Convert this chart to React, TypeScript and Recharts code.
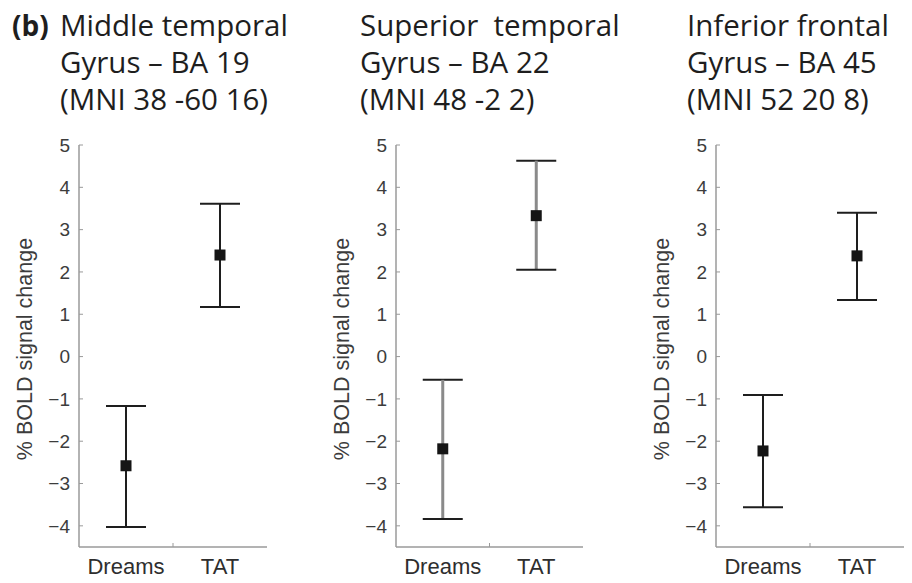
import React from 'react';
import { ComposedChart, Scatter, XAxis, YAxis, ErrorBar } from 'recharts';

// Conditions on the x axis
const categories = ['Dreams', 'TAT'];

// Axis ticks
const yTicks = [-4, -3, -2, -1, 0, 1, 2, 3, 4, 5];
const rightTicks = [4.25, 2.8, 1.35, -0.1, -1.55, -3.0];
const topTicks = [0.786, 1.071, 1.357, 1.643, 1.929, 2.214];
const bottomTicks = [1, 1.5, 2];

// Middle temporal gyrus, BA 19
const mtgMean = [-2.58, 2.4];
const mtgLower = [-4.03, 1.17];
const mtgUpper = [-1.17, 3.61];

// Superior temporal gyrus, BA 22
const stgMean = [-2.18, 3.33];
const stgLower = [-3.84, 2.05];
const stgUpper = [-0.55, 4.63];

// Inferior frontal gyrus, BA 45
const ifgMean = [-2.23, 2.38];
const ifgLower = [-3.56, 1.34];
const ifgUpper = [-0.91, 3.4];

const mtgTitle = ['Middle temporal', 'Gyrus \u2013 BA 19', '(MNI 38 -60 16)'];
const stgTitle = ['Superior  temporal', 'Gyrus \u2013 BA 22', '(MNI 48 -2 2)'];
const ifgTitle = ['Inferior frontal', 'Gyrus \u2013 BA 45', '(MNI 52 20 8)'];

const AXIS_COLOR = '#9a9a9a';
const SANS = '"Liberation Sans", Arial, sans-serif';
const TITLE_FONT = '"Open Sans", sans-serif';
const PLOT_TOP = 145;
const PLOT_BOTTOM = 547;
const HEIGHT = 583;

const fmt = (v: number) => (v < 0 ? '\u2212' + Math.abs(v) : String(v));

const LeftTick = (props: any) => {
  const { x, y, payload } = props;
  return (
    <g>
      <line x1={x} x2={x + 4} y1={y} y2={y} stroke={AXIS_COLOR} strokeWidth={1} />
      <text x={x - 9} y={y} dy="0.36em" textAnchor="end" fontSize={19} fill="#3c3c3c" fontFamily={SANS}>
        {fmt(payload.value)}
      </text>
    </g>
  );
};

const RightTick = (props: any) => {
  const { x, y } = props;
  return <line x1={x} x2={x - 4} y1={y} y2={y} stroke={AXIS_COLOR} strokeWidth={1} />;
};

const TopTick = (props: any) => {
  const { x, y } = props;
  return <line x1={x} x2={x} y1={y} y2={y + 4} stroke={AXIS_COLOR} strokeWidth={1} />;
};

const BottomTick = (props: any) => {
  const { x, y, payload } = props;
  const idx = categories.findIndex((_, i) => i + 1 === payload.value);
  if (idx < 0) {
    return <line x1={x} x2={x} y1={y} y2={y - 4} stroke={AXIS_COLOR} strokeWidth={1} />;
  }
  return (
    <text x={x} y={y + 27} textAnchor="middle" fontSize={22} fill="#2e2e2e" fontFamily={SANS}>
      {categories[idx]}
    </text>
  );
};

const Marker = (props: any) => {
  const { cx, cy } = props;
  return <rect x={cx - 5.5} y={cy - 5.5} width={11} height={11} fill="#151515" />;
};

type PanelProps = {
  left: number;
  width: number;
  plotLeft: number;
  plotRight: number;
  mean: number[];
  lower: number[];
  upper: number[];
  className?: string;
};

const Panel = ({ left, width, plotLeft, plotRight, mean, lower, upper, className }: PanelProps) => {
  const data = categories.map((c, i) => ({
    pos: i + 1,
    name: c,
    mean: mean[i],
    err: [mean[i] - lower[i], upper[i] - mean[i]],
  }));
  const yAxisWidth = plotLeft - left;
  const marginRight = left + width - plotRight;
  return (
    <div className={className} style={{ position: 'absolute', left, top: 0, width, height: HEIGHT }}>
      <ComposedChart
        width={width}
        height={HEIGHT}
        data={data}
        margin={{ top: PLOT_TOP, right: marginRight, bottom: 0, left: 0 }}
      >
        <XAxis
          dataKey="pos"
          type="number"
          domain={[0.5, 2.5]}
          ticks={bottomTicks}
          interval={0}
          height={HEIGHT - PLOT_BOTTOM}
          tickSize={0}
          tickMargin={0}
          tickLine={false}
          tick={<BottomTick />}
          axisLine={{ stroke: AXIS_COLOR, strokeWidth: 1.5 }}
        />
        <XAxis
          xAxisId="top"
          orientation="top"
          dataKey="pos"
          type="number"
          domain={[0.5, 2.5]}
          ticks={topTicks}
          interval={0}
          height={0}
          tickSize={0}
          tickMargin={0}
          tickLine={false}
          tick={<TopTick />}
          axisLine={{ stroke: AXIS_COLOR, strokeWidth: 1.5 }}
        />
        <YAxis
          type="number"
          domain={[-4.5, 5]}
          ticks={yTicks}
          interval={0}
          width={yAxisWidth}
          tickSize={0}
          tickMargin={0}
          tickLine={false}
          tick={<LeftTick />}
          axisLine={{ stroke: AXIS_COLOR, strokeWidth: 1.5 }}
          label={{
            content: (p: any) => {
              const vb = p.viewBox;
              const bx = vb.x + vb.width - 47;
              const by = vb.y + vb.height / 2 + 3;
              return (
                <text
                  x={bx}
                  y={by}
                  transform={`rotate(-90, ${bx}, ${by})`}
                  textAnchor="middle"
                  fontSize={21.5}
                  fill="#3c3c3c"
                  fontFamily={SANS}
                >
                  % BOLD signal change
                </text>
              );
            },
          }}
        />
        <YAxis
          yAxisId="right"
          orientation="right"
          type="number"
          domain={[-4.5, 5]}
          ticks={rightTicks}
          interval={0}
          width={0}
          tickSize={0}
          tickMargin={0}
          tickLine={false}
          tick={<RightTick />}
          axisLine={{ stroke: AXIS_COLOR, strokeWidth: 1.5 }}
        />
        <Scatter dataKey="mean" shape={<Marker />} isAnimationActive={false}>
          <ErrorBar dataKey="err" direction="y" width={20} stroke="#1e1e1e" strokeWidth={2} isAnimationActive={false} />
        </Scatter>
      </ComposedChart>
    </div>
  );
};

const TitleBlock = ({ x, lines }: { x: number; lines: string[] }) => (
  <g>
    {lines.map((t, i) => (
      <text
        key={i}
        x={x}
        y={36 + i * 37}
        fontSize={29.5}
        fill="#1e1e1e"
        fontFamily={TITLE_FONT}
        style={{ whiteSpace: 'pre' }}
      >
        {t}
      </text>
    ))}
  </g>
);

export default function App() {
  return (
    <div
      style={{
        position: 'absolute',
        left: 0,
        top: 0,
        width: 912,
        height: HEIGHT,
        background: '#ffffff',
        overflow: 'hidden',
      }}
    >
      <style>{`.stem-light .recharts-errorBar line:nth-of-type(2){stroke:#8a8a8a;stroke-width:3px}`}</style>
      <Panel left={0} width={290} plotLeft={79} plotRight={267} mean={mtgMean} lower={mtgLower} upper={mtgUpper} />
      <Panel
        left={300}
        width={300}
        plotLeft={396}
        plotRight={583}
        mean={stgMean}
        lower={stgLower}
        upper={stgUpper}
        className="stem-light"
      />
      <Panel left={610} width={302} plotLeft={716} plotRight={904} mean={ifgMean} lower={ifgLower} upper={ifgUpper} />
      <svg width={912} height={140} style={{ position: 'absolute', left: 0, top: 0 }}>
        <text x={12} y={36} fontSize={28} fontWeight="bold" fill="#1e1e1e" fontFamily={TITLE_FONT}>
          (b)
        </text>
        <TitleBlock x={60} lines={mtgTitle} />
        <TitleBlock x={360} lines={stgTitle} />
        <TitleBlock x={687} lines={ifgTitle} />
      </svg>
    </div>
  );
}
